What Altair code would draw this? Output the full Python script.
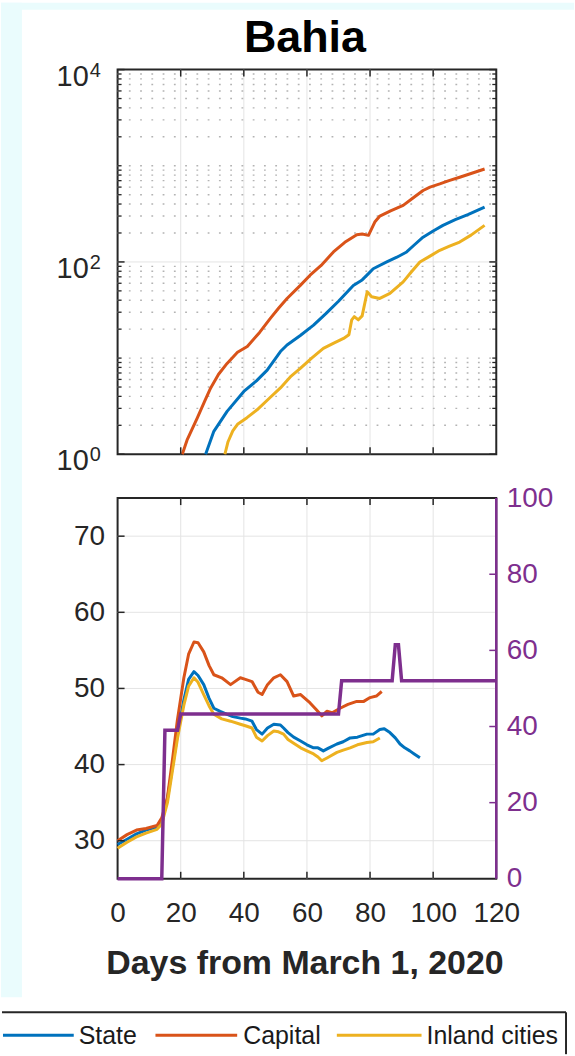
import altair as alt
import pandas as pd

# ---------------------------------------------------------------------------
# Series definitions
SERIES = ["State", "Capital", "Inland cities"]
COLORS = ["#0072BD", "#D95319", "#EDB120"]
PURPLE = "#7E2F8E"
INK = "#262626"
CYAN = "#eafcfd"

# Upper panel: log-scale curves (day, value)
state_top_day = [27.9, 30.5, 34.7, 40.0, 44.0, 47.4, 51.6, 53.7, 57.9, 62.1, 66.0, 70.0, 74.7,
                 77.5, 79.5, 81.0, 85.3, 88.5, 91.6, 94.0, 96.8, 100.0, 103.1, 107.0, 111.0, 116.3]
state_top_val = [1.0, 1.73, 2.79, 4.5, 5.8, 7.5, 11.7, 13.7, 17.2, 22.0, 29.0, 39.0, 57.0,
                 65.0, 75.6, 85.0, 100.0, 112.0, 127.0, 150.0, 181.0, 210.0, 240.0, 275.0, 310.0, 372.0]

capital_top_day = [20.5, 22.0, 25.3, 27.5, 29.5, 32.0, 34.7, 38.0, 41.1, 45.0, 48.4, 51.0, 53.7,
                   57.9, 61.0, 64.5, 68.4, 72.0, 75.8, 77.5, 79.5, 81.5, 83.1, 86.5, 90.5, 93.5,
                   96.8, 99.0, 102.1, 105.0, 108.4, 112.0, 116.3]
capital_top_val = [1.0, 1.4, 2.4, 3.5, 4.9, 6.8, 8.8, 11.5, 13.2, 18.5, 25.9, 33.0, 41.7,
                   57.0, 72.8, 92.0, 127.0, 160.0, 192.0, 195.0, 189.0, 260.0, 300.0, 340.0, 387.0, 460.0,
                   553.0, 600.0, 647.0, 700.0, 760.0, 830.0, 926.0]

inland_top_day = [34.0, 35.0, 36.5, 38.0, 41.0, 44.2, 48.0, 51.6, 55.0, 57.9, 61.5, 65.2, 68.5,
                  71.6, 73.3, 74.2, 75.0, 76.3, 77.5, 79.1, 80.5, 83.1, 86.3, 90.5, 93.0, 95.8,
                  99.0, 102.1, 105.0, 108.4, 112.0, 116.3]
inland_top_val = [1.0, 1.35, 1.75, 2.05, 2.4, 2.9, 3.8, 4.9, 6.5, 7.8, 10.0, 12.6, 14.3,
                  16.0, 17.5, 25.0, 27.0, 25.0, 27.5, 49.0, 43.5, 41.7, 47.0, 62.0, 78.0, 100.0,
                  115.0, 132.0, 145.0, 161.0, 190.0, 240.0]

# Lower panel: left-axis curves (day, value)
state_bot_day = [0, 3, 6, 9, 12.5, 14, 15.8, 17.5, 19, 21, 22.5, 24.2, 25.5, 27.3, 29, 30.5, 32.5,
                 34.7, 36.5, 38.9, 40.5, 42.6, 44, 45.8, 47.5, 49.5, 51.6, 52.6, 54, 55.8, 58, 60,
                 62.1, 63.5, 65.2, 67, 69.5, 71.5, 73.7, 76, 79, 81, 83.1, 84.5, 86.3, 88, 89.5,
                 91, 92.6, 94, 95.8]
state_bot_val = [29.5, 30.2, 30.9, 31.4, 31.8, 32.5, 35.5, 40.0, 44.0, 48.5, 51.2, 52.2, 51.7,
                 50.5, 48.7, 47.4, 47.0, 46.6, 46.3, 46.1, 46.0, 45.7, 44.6, 44.0, 44.8, 45.3,
                 45.2, 44.8, 44.2, 43.6, 43.1, 42.6, 42.2, 42.2, 41.8, 42.2, 42.7, 43.0, 43.5,
                 43.6, 44.0, 44.0, 44.6, 44.7, 44.2, 43.5, 42.7, 42.2, 41.8, 41.4, 40.9]

capital_bot_day = [0, 3, 6, 9, 12.5, 14, 15.8, 17.5, 18.9, 21, 22.5, 24.2, 25.5, 27.3, 29, 30.5,
                   33, 35.8, 38.9, 40.5, 42.6, 44.5, 45.8, 47.5, 49.5, 51.6, 53.7, 55.8, 58, 61,
                   63, 64.7, 66.3, 68, 70.5, 73, 75.8, 78, 80, 82, 83.7]
capital_bot_val = [30.0, 30.8, 31.4, 31.6, 32.0, 33.0, 35.7, 41.0, 45.7, 51.4, 54.5, 56.1, 56.0,
                   54.8, 53.0, 51.8, 51.4, 50.5, 51.4, 51.2, 50.9, 49.5, 49.2, 50.5, 51.4, 51.8,
                   50.9, 49.0, 49.2, 48.1, 47.2, 46.4, 47.0, 46.8, 47.4, 47.9, 48.3, 48.3, 48.8,
                   49.0, 49.6]

inland_bot_day = [0, 3, 6, 9, 12.5, 14, 15.8, 17.5, 19, 21, 22.5, 24.2, 25.5, 27.3, 29, 30.5, 33,
                  35.8, 38.9, 40.5, 42.6, 44, 45.8, 47.5, 49.5, 51, 52.6, 54, 55.8, 58, 60, 62.1,
                  63.5, 64.7, 66.5, 69.5, 71.5, 73.7, 76, 79, 81, 83.1]
inland_bot_val = [29.0, 29.8, 30.5, 31.0, 31.5, 32.2, 35.0, 39.5, 43.5, 47.8, 50.3, 51.4, 50.8,
                  49.2, 47.7, 46.6, 46.0, 45.7, 45.3, 45.1, 44.8, 43.6, 43.1, 43.8, 44.4, 44.3,
                  44.0, 43.3, 42.8, 42.2, 41.8, 41.4, 41.0, 40.5, 40.9, 41.6, 41.9, 42.2, 42.6,
                  42.9, 43.0, 43.5]

# Lower panel: right-axis step series
index_day = [0, 14, 15, 19, 20, 70, 71, 87, 88, 89, 90, 120]
index_val = [0, 0, 39, 39, 43.3, 43.3, 52, 52, 61.5, 61.5, 52, 52]

# Axis ticks
x_ticks = [0, 20, 40, 60, 80, 100, 120]
x_inner = [20, 40, 60, 80, 100]
log_major = [1, 100, 10000]
log_exp = ["0", "2", "4"]
log_minor = [m * 10 ** k for k in range(4) for m in range(2, 11) if m * 10 ** k not in (100, 10000)]
left_ticks = [30, 40, 50, 60, 70]
right_ticks = [0, 20, 40, 60, 80, 100]

# ---------------------------------------------------------------------------
# Layout (pixels, relative to each panel's plot origin)
W = 380
H_TOP = 386
H_BOT = 382
GAP = 44
ORIG_X, ORIG_Y = 117, 67          # page position of the upper plot's corner
PAGE_W, PAGE_H = 575, 1056
BOT_Y = ORIG_Y + H_TOP + GAP      # page y of the lower plot's top edge
TICK_MAJ, TICK_MIN = 7, 4
FONT = "Liberation Sans"


def frame(days, vals, name):
    return pd.DataFrame({"day": days, "value": vals, "series": name})


top_df = pd.concat([frame(state_top_day, state_top_val, SERIES[0]),
                    frame(capital_top_day, capital_top_val, SERIES[1]),
                    frame(inland_top_day, inland_top_val, SERIES[2])], ignore_index=True)
bot_df = pd.concat([frame(state_bot_day, state_bot_val, SERIES[0]),
                    frame(capital_bot_day, capital_bot_val, SERIES[1]),
                    frame(inland_bot_day, inland_bot_val, SERIES[2])], ignore_index=True)
index_df = pd.DataFrame({"day": index_day, "value": index_val})

one = pd.DataFrame({"k": [0]})
x_scale = alt.Scale(domain=[0, 120], nice=False, zero=False)
log_scale = alt.Scale(type="log", domain=[1, 10000], nice=False)
left_scale = alt.Scale(domain=[25, 75], nice=False, zero=False)
right_scale = alt.Scale(domain=[0, 100], nice=False, zero=False)
color_scale = alt.Scale(domain=SERIES, range=COLORS)

# one shared x-axis definition per panel so the layers merge cleanly
X_AXIS_BOT = alt.Axis(values=x_ticks, title=None, grid=False, domain=False, ticks=False,
                      tickSize=0, labelFontSize=28, labelPadding=21, labelFont=FONT,
                      labelColor=INK, labelFlush=False, labelOverlap=False)


def vals(v, name="v"):
    return pd.DataFrame({name: v})


def xgrid(height, axis):
    return alt.Chart(vals(x_inner)).mark_rule(color="#e4e4e4", strokeWidth=1).encode(
        x=alt.X("v:Q", scale=x_scale, axis=axis), y=alt.value(0), y2=alt.value(height))


def xticks(height, axis):
    base = alt.Chart(vals(x_inner)).mark_rule(color=INK, strokeWidth=1.5)
    x = alt.X("v:Q", scale=x_scale, axis=axis)
    return (base.encode(x=x, y=alt.value(height - TICK_MAJ), y2=alt.value(height))
            + base.encode(x=x, y=alt.value(0), y2=alt.value(TICK_MAJ)))


# ---------------------------------------------------------------------------
# Upper panel
bg = (alt.Chart(one).mark_rect(color=CYAN).encode(
          x=alt.value(-ORIG_X), x2=alt.value(PAGE_W - ORIG_X),
          y=alt.value(-ORIG_Y), y2=alt.value(7 - ORIG_Y))
      + alt.Chart(one).mark_rect(color=CYAN).encode(
          x=alt.value(-ORIG_X), x2=alt.value(21 - ORIG_X),
          y=alt.value(-ORIG_Y), y2=alt.value(998 - ORIG_Y)))

minor_grid = alt.Chart(vals(log_minor)).mark_rule(
    color="#b3b3b3", strokeWidth=1.4, strokeDash=[1.8, 9.5]).encode(
    y=alt.Y("v:Q", scale=log_scale, axis=None), x=alt.value(0), x2=alt.value(W))
major_grid = alt.Chart(vals([100])).mark_rule(color="#e4e4e4", strokeWidth=1).encode(
    y=alt.Y("v:Q", scale=log_scale, axis=None), x=alt.value(0), x2=alt.value(W))

ly = alt.Y("v:Q", scale=log_scale, axis=None)
tick_base = alt.Chart(vals(log_minor)).mark_rule(color=INK, strokeWidth=1.3)
tick_major = alt.Chart(vals(log_major)).mark_rule(color=INK, strokeWidth=1.5)
log_ticks = (tick_base.encode(y=ly, x=alt.value(0), x2=alt.value(TICK_MIN))
             + tick_base.encode(y=ly, x=alt.value(W - TICK_MIN), x2=alt.value(W))
             + tick_major.encode(y=ly, x=alt.value(0), x2=alt.value(TICK_MAJ))
             + tick_major.encode(y=ly, x=alt.value(W - TICK_MAJ), x2=alt.value(W)))

top_lines = alt.Chart(top_df).mark_line(strokeWidth=3, strokeJoin="round").encode(
    x=alt.X("day:Q", scale=x_scale, axis=None),
    y=alt.Y("value:Q", scale=log_scale, axis=None),
    color=alt.Color("series:N", scale=color_scale, legend=None),
    detail="series:N")

lab_df = pd.DataFrame({"v": log_major, "base": ["10"] * 3, "exp": log_exp})
log_base = alt.Chart(lab_df).mark_text(
    align="right", baseline="middle", font=FONT, fontSize=29, color=INK, dy=7).encode(
    y=ly, x=alt.value(-29), text="base:N")
log_pow = alt.Chart(lab_df).mark_text(
    align="left", baseline="middle", font=FONT, fontSize=20, color=INK, dy=1).encode(
    y=ly, x=alt.value(-28), text="exp:N")

title = alt.Chart(one).mark_text(
    text="Bahia", align="center", baseline="alphabetic", font=FONT, fontSize=45,
    fontWeight="bold", color="#000000").encode(x=alt.value(188), y=alt.value(-18))

top = alt.layer(bg, major_grid, xgrid(H_TOP, None), minor_grid, top_lines, log_ticks,
                xticks(H_TOP, None), log_base, log_pow, title).properties(width=W, height=H_TOP)

# ---------------------------------------------------------------------------
# Lower panel
ygrid = alt.Chart(vals(left_ticks)).mark_rule(color="#e4e4e4", strokeWidth=1).encode(
    y=alt.Y("v:Q", scale=left_scale, axis=None), x=alt.value(0), x2=alt.value(W))

bot_lines = alt.Chart(bot_df).mark_line(strokeWidth=3, strokeJoin="round").encode(
    x=alt.X("day:Q", scale=x_scale, axis=X_AXIS_BOT),
    y=alt.Y("value:Q", scale=left_scale,
            axis=alt.Axis(values=left_ticks, title=None, grid=False, domain=False, ticks=False,
                          tickSize=0, labelFontSize=28, labelPadding=13, labelFont=FONT,
                          labelColor=INK, orient="left")),
    color=alt.Color("series:N", scale=color_scale, legend=None),
    detail="series:N")

left_tk = alt.Chart(vals(left_ticks)).mark_rule(color=INK, strokeWidth=1.5).encode(
    y=alt.Y("v:Q", scale=left_scale, axis=None), x=alt.value(0), x2=alt.value(TICK_MAJ))

index_line = alt.Chart(index_df).mark_line(color=PURPLE, strokeWidth=3.5, strokeJoin="miter").encode(
    x=alt.X("day:Q", scale=x_scale, axis=X_AXIS_BOT),
    y=alt.Y("value:Q", scale=right_scale,
            axis=alt.Axis(values=right_ticks, title=None, grid=False, domain=False, ticks=False,
                          tickSize=0, labelFontSize=28, labelPadding=10, labelFont=FONT,
                          labelColor=PURPLE, orient="right", labelFlush=False,
                          labelOverlap=False)))

right_tk = alt.Chart(vals([20, 40, 60, 80])).mark_rule(color=PURPLE, strokeWidth=1.5).encode(
    y=alt.Y("v:Q", scale=right_scale, axis=None), x=alt.value(W - TICK_MAJ), x2=alt.value(W))
right_edge = alt.Chart(one).mark_rule(color=PURPLE, strokeWidth=2.5).encode(
    x=alt.value(W), y=alt.value(0), y2=alt.value(H_BOT))

x_title = alt.Chart(one).mark_text(
    text="Days from March 1, 2020", align="center", baseline="alphabetic", font=FONT,
    fontSize=34, fontWeight="bold", color=INK).encode(x=alt.value(188), y=alt.value(H_BOT + 96))

# Legend strip below the panels (its left edge runs off the page);
# strokes are kept one pixel inside the page so nothing spills over.
LEG_TOP = 1013 - BOT_Y
LEG_MID = 1036 - BOT_Y
LEG_RIGHT = 567 - ORIG_X
LEG_POS = [(-127, -44, -39), (38, 120, 126), (220, 305, 310)]
legend_layers = [
    alt.Chart(one).mark_rule(color=INK, strokeWidth=2).encode(
        x=alt.value(1 - ORIG_X), x2=alt.value(LEG_RIGHT), y=alt.value(LEG_TOP)),
    alt.Chart(one).mark_rule(color=INK, strokeWidth=2).encode(
        x=alt.value(LEG_RIGHT), y=alt.value(LEG_TOP), y2=alt.value(PAGE_H - BOT_Y - 1)),
]
for name, col, (x0, x1, xt) in zip(SERIES, COLORS, LEG_POS):
    legend_layers.append(alt.Chart(one).mark_rule(color=col, strokeWidth=3).encode(
        x=alt.value(max(x0, 2 - ORIG_X)), x2=alt.value(x1), y=alt.value(LEG_MID)))
    legend_layers.append(alt.Chart(one).mark_text(
        text=name, align="left", baseline="middle", font=FONT, fontSize=25,
        color="#1a1a1a").encode(x=alt.value(xt), y=alt.value(LEG_MID + 1)))

bottom = alt.layer(xgrid(H_BOT, X_AXIS_BOT), ygrid, bot_lines, index_line, left_tk,
                   xticks(H_BOT, X_AXIS_BOT), right_tk, right_edge, x_title,
                   *legend_layers).resolve_scale(y="independent").properties(
    width=W, height=H_BOT)

chart = alt.vconcat(top, bottom, spacing=GAP, bounds="flush").properties(
    padding=0
).configure(background="white").configure_view(stroke=INK, strokeWidth=2)

chart.save("out.html", embed_options={"renderer": "svg", "actions": False})
